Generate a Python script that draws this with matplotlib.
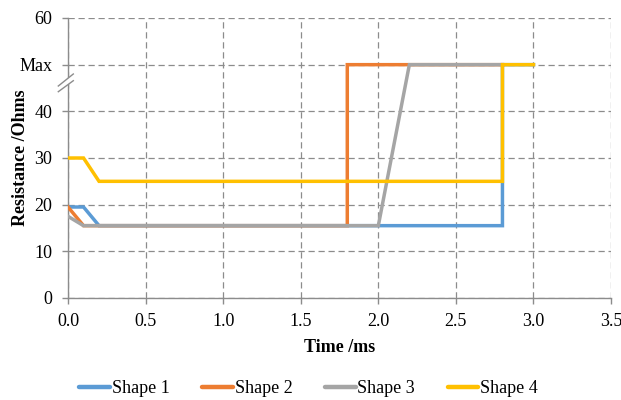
import matplotlib
matplotlib.use("Agg")
import matplotlib.pyplot as plt
from matplotlib.patches import Polygon
from matplotlib.lines import Line2D

plt.rcParams['font.family'] = ['Liberation Serif', 'DejaVu Serif']

# Data
s1_x = [0.0, 0.1, 0.2, 2.8, 2.8, 3.0]
s1_y = [19.5, 19.5, 15.5, 15.5, 50, 50]
s2_x = [0.0, 0.1, 1.8, 1.8, 2.8]
s2_y = [19.5, 15.5, 15.5, 50, 50]
s3_x = [0.0, 0.1, 2.0, 2.2, 2.8]
s3_y = [17.5, 15.5, 15.5, 50, 50]
s4_x = [0.0, 0.1, 0.2, 2.8, 2.8, 3.0]
s4_y = [30, 30, 25, 25, 50, 50]
names = ["Shape 1", "Shape 2", "Shape 3", "Shape 4"]
colors = ["#5B9BD5", "#ED7D31", "#A5A5A5", "#FFC000"]
y_ticks = [0, 10, 20, 30, 40, 50, 60]
y_labels = ["0", "10", "20", "30", "40", "Max", "60"]
x_ticks = [0.0, 0.5, 1.0, 1.5, 2.0, 2.5, 3.0, 3.5]

FS = 13
fig = plt.figure(figsize=(6.21, 4.0), dpi=100)
ax = fig.add_axes([0.1095, 0.255, 0.8745, 0.70])

for xs, ys, n, c in zip([s1_x, s2_x, s3_x, s4_x], [s1_y, s2_y, s3_y, s4_y], names, colors):
    ax.plot(xs, ys, color=c, lw=2.5, label=n, solid_joinstyle='miter', zorder=3)

ax.set_xlim(0, 3.5)
ax.set_ylim(0, 60)
ax.set_xticks(x_ticks)
ax.set_xticklabels([f"{v:.1f}" for v in x_ticks])
ax.set_yticks(y_ticks)
ax.set_yticklabels(y_labels)
ax.grid(True, color='#8C8C8C', linestyle=(0, (5, 3)), lw=0.9)
ax.set_axisbelow(True)
for s in ['top', 'right']:
    ax.spines[s].set_visible(False)
for s in ['left', 'bottom']:
    ax.spines[s].set_color('#8C8C8C')
    ax.spines[s].set_linewidth(1.0)
ax.tick_params(axis='both', colors='#8C8C8C', labelcolor='black', labelsize=FS, length=4.5, width=1.0)
ax.tick_params(axis='x', pad=6)
ax.tick_params(axis='y', pad=7)
ax.set_xlabel("Time /ms", fontsize=FS, fontweight='bold', labelpad=7)
ax.set_ylabel("Resistance /Ohms", fontsize=FS, fontweight='bold', labelpad=-7)

# Axis break mark near y=45
def fpt(px, py):
    return fig.transFigure.inverted().transform((px, 400 - py))
p1a, p1b = fpt(58.3, 86), fpt(73.3, 74)
p2a, p2b = fpt(58.3, 91.7), fpt(73.3, 80.7)
poly = Polygon([p1a, p1b, p2b, p2a], closed=True, transform=fig.transFigure,
               facecolor='white', edgecolor='none', zorder=5)
fig.patches.append(poly)
for a, b in [(p1a, p1b), (p2a, p2b)]:
    fig.lines.append(Line2D([a[0], b[0]], [a[1], b[1]], transform=fig.transFigure,
                            color='#8C8C8C', lw=1.0, zorder=6))

handles = [Line2D([0], [0], color=c, lw=3.2, solid_capstyle='round') for c in colors]
fig.legend(handles, names, loc='center', bbox_to_anchor=(0.497, 0.028), ncol=4, frameon=False,
           fontsize=FS, handlelength=1.7, handletextpad=0.1, columnspacing=1.8)

fig.savefig("out.png", dpi=100)
